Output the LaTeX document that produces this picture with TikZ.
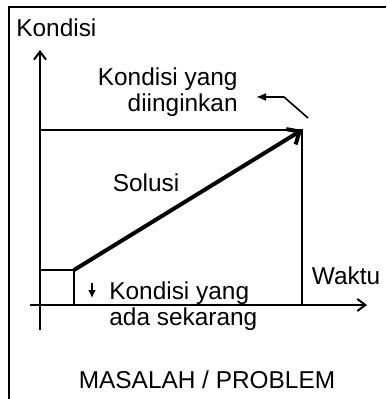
\documentclass[tikz,border=0pt]{standalone}
\usepackage{fontspec}
\setmainfont{Liberation Sans}
\usetikzlibrary{arrows.meta,positioning}

\begin{document}
\begin{tikzpicture}[x=0.5pt, y=-0.5pt,
  every node/.style={inner sep=0pt, font=\fontsize{12.2}{13}\selectfont},
  axis/.style={-{Straight Barb[length=4pt,width=6pt]}, line width=1pt},
  guide/.style={line width=1pt},
  solusi/.style={-{Straight Barb[length=5pt,width=9pt]}, line width=2pt}]
\useasboundingbox (0,0) rectangle (386,399);

% frame
\draw[line width=1.1pt] (386,7) -- (9,7) -- (9,399);

\coordinate (O) at (40,305);
\coordinate (ytop) at (40,50);
\coordinate (ybot) at (40,330);
\coordinate (xleft) at (30,305);
\coordinate (xright) at (367,305);
\coordinate (now) at (74,270);
\coordinate (nowx) at (74,305);
\coordinate (nowy) at (40,270);
\coordinate (goal) at (302,130);
\coordinate (goalx) at (302,305);
\coordinate (goaly) at (40,130);

\node[anchor=west] (kondisi) at (16,28) {Kondisi};
\node[anchor=center] (waktu) at (346,276) {Waktu};
\node[anchor=east, align=right] (ingin) at (238,92) {Kondisi yang\\diinginkan};
\node (sol) at (146,183) {Solusi};
\node[anchor=west, align=left] (kini) at (109,306) {Kondisi yang\\ada sekarang};
\node (judul) at (207,380) {MASALAH / PROBLEM};

% axes
\draw[axis] (ybot) -- (ytop);
\draw[axis] (xleft) -- (xright);

% boxes
\draw[guide] (nowy) -- (now) -- (nowx);
\draw[guide] (goaly) -- (goal) -- (goalx);

\draw[solusi] (now) -- (goal);

% pointers
\coordinate (p1) at (308,118);
\coordinate (p2) at (284,97);
\coordinate (p3) at (256,97);
\draw[-{Latex[length=5pt,width=4pt]}, line width=0.8pt] (p1) -- (p2) -- (p3);

\coordinate (d1) at (92,283);
\coordinate (d2) at (92,298);
\draw[-{Latex[length=4pt,width=4pt]}, line width=0.8pt] (d1) -- (d2);
\end{tikzpicture}
\end{document}
